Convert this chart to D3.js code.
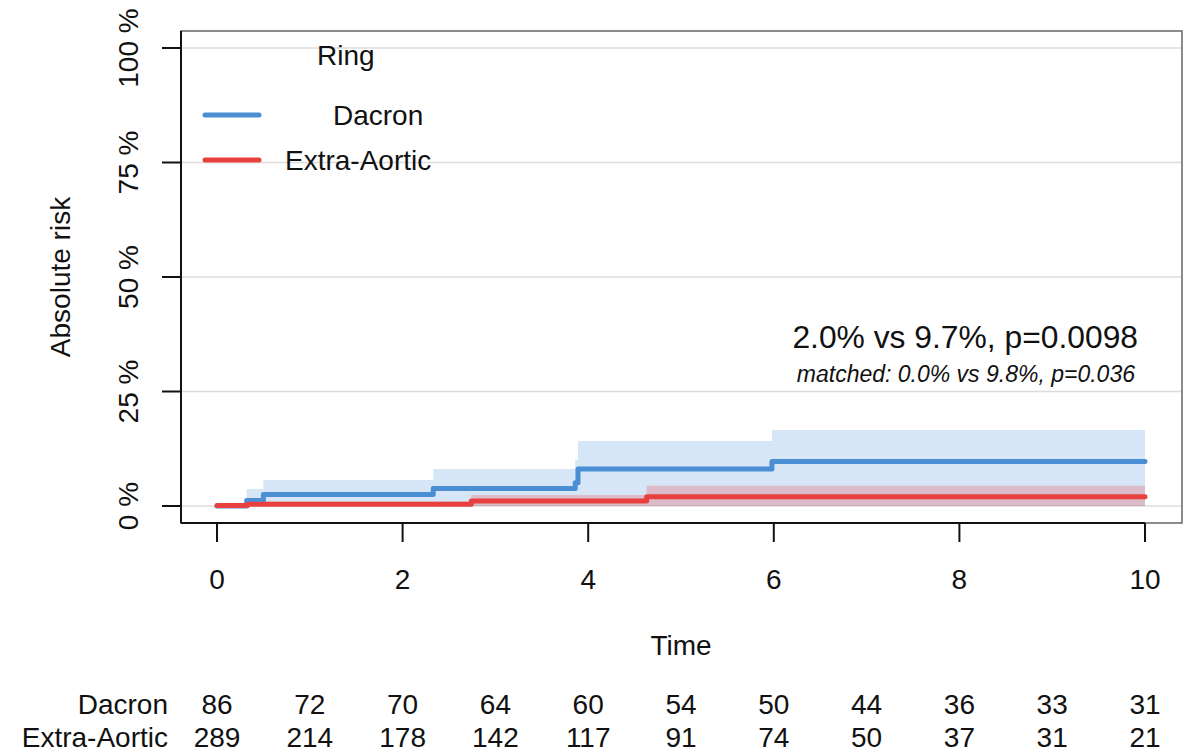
<!DOCTYPE html>
<html>
<head>
<meta charset="utf-8">
<script src="https://cdn.jsdelivr.net/npm/d3@7"></script>
<style>
  body { margin: 0; background: #fff; }
  svg text { font-family: "Liberation Sans", Arial, Helvetica, sans-serif; fill: #111; }
</style>
</head>
<body>
<div id="chart"></div>
<script>
// cumulative incidence curves (time in years, risk in %)
const dacronTime  = [0, 0.32, 0.5, 2.33, 3.86, 3.89, 5.98, 10];
const dacronRisk  = [0, 1.2, 2.5, 3.8, 5.1, 8.1, 9.7, 9.7];
const dacronUpper = [0, 3.7, 5.7, 8.1, 10.0, 14.2, 16.6, 16.6];
const dacronLower = [0, 0, 0, 0, 0, 0, 0, 0];

const extraTime  = [0, 0.33, 2.74, 4.63, 10];
const extraRisk  = [0.1, 0.4, 1.1, 2.0, 2.0];
const extraUpper = [0.6, 1.0, 2.4, 4.4, 4.4];
const extraLower = [0, 0, 0, 0, 0];

// numbers at risk
const riskTimes    = [0, 1, 2, 3, 4, 5, 6, 7, 8, 9, 10];
const atRiskDacron = [86, 72, 70, 64, 60, 54, 50, 44, 36, 33, 31];
const atRiskExtra  = [289, 214, 178, 142, 117, 91, 74, 50, 37, 31, 21];

const xTicks = [0, 2, 4, 6, 8, 10];
const yTicks = [0, 25, 50, 75, 100];

const groups = [
  { name: "Dacron",       color: "#4a8fd4", time: dacronTime, risk: dacronRisk, lo: dacronLower, hi: dacronUpper, atRisk: atRiskDacron },
  { name: "Extra-Aortic", color: "#e8403f", time: extraTime,  risk: extraRisk,  lo: extraLower,  hi: extraUpper,  atRisk: atRiskExtra }
];

const W = 1196, H = 756;
const box = { left: 181, top: 31, right: 1182, bottom: 523 };

const x = d3.scaleLinear().domain([0, 10]).range([217, 1145]);
const y = d3.scaleLinear().domain([0, 100]).range([506, 48]);

const svg = d3.select("#chart").append("svg")
  .attr("width", W).attr("height", H);

// grid
svg.append("g").selectAll("line")
  .data(yTicks)
  .join("line")
    .attr("x1", box.left).attr("x2", box.right)
    .attr("y1", d => y(d)).attr("y2", d => y(d))
    .attr("stroke", "#dcdcdc").attr("stroke-width", 1.5);

// confidence bands
const area = d3.area()
  .curve(d3.curveStepAfter)
  .x(d => x(d.t)).y0(d => y(d.lo)).y1(d => y(d.hi));

const line = d3.line()
  .curve(d3.curveStepAfter)
  .x(d => x(d.t)).y(d => y(d.r));

const pts = g => g.time.map((t, i) => ({ t, r: g.risk[i], lo: g.lo[i], hi: g.hi[i] }));

svg.append("g").selectAll("path")
  .data(groups)
  .join("path")
    .attr("d", d => area(pts(d)))
    .attr("fill", d => d.color)
    .attr("fill-opacity", (d, i) => i === 0 ? 0.22 : 0.25);

svg.append("g").selectAll("path")
  .data(groups)
  .join("path")
    .attr("d", d => line(pts(d)))
    .attr("fill", "none")
    .attr("stroke", d => d.color)
    .attr("stroke-width", 5)
    .attr("stroke-linecap", "round")
    .attr("stroke-linejoin", "round");

// box + axes
svg.append("rect")
  .attr("x", box.left).attr("y", box.top)
  .attr("width", box.right - box.left).attr("height", box.bottom - box.top)
  .attr("fill", "none").attr("stroke", "#666").attr("stroke-width", 1.5);

svg.append("line")
  .attr("x1", box.left).attr("x2", box.left)
  .attr("y1", box.top).attr("y2", box.bottom)
  .attr("stroke", "#111").attr("stroke-width", 2);
svg.append("line")
  .attr("x1", box.left).attr("x2", x(10))
  .attr("y1", box.bottom).attr("y2", box.bottom)
  .attr("stroke", "#111").attr("stroke-width", 2);

const xAxis = svg.append("g");
xAxis.selectAll("line")
  .data(xTicks)
  .join("line")
    .attr("x1", d => x(d)).attr("x2", d => x(d))
    .attr("y1", box.bottom).attr("y2", box.bottom + 19)
    .attr("stroke", "#111").attr("stroke-width", 2);
xAxis.selectAll("text")
  .data(xTicks)
  .join("text")
    .attr("x", d => x(d)).attr("y", 589)
    .attr("text-anchor", "middle")
    .style("font-size", "28px")
    .text(d => d);

const yAxis = svg.append("g");
yAxis.selectAll("line")
  .data(yTicks)
  .join("line")
    .attr("x1", box.left - 19).attr("x2", box.left)
    .attr("y1", d => y(d)).attr("y2", d => y(d))
    .attr("stroke", "#111").attr("stroke-width", 2);
yAxis.selectAll("text")
  .data(yTicks)
  .join("text")
    .attr("transform", d => `translate(138,${y(d)}) rotate(-90)`)
    .attr("text-anchor", "middle")
    .style("font-size", "28px")
    .text(d => `${d} %`);

// axis titles
svg.append("text")
  .attr("transform", `translate(70,${y(50)}) rotate(-90)`)
  .attr("text-anchor", "middle")
  .style("font-size", "28px")
  .text("Absolute risk");

svg.append("text")
  .attr("x", x(5)).attr("y", 655)
  .attr("text-anchor", "middle")
  .style("font-size", "28px")
  .text("Time");

// legend
const legend = svg.append("g");
legend.append("text")
  .attr("x", 317).attr("y", 65)
  .style("font-size", "28px")
  .text("Ring");
const legendRows = [
  { g: groups[0], ly: 115, tx: 333, ty: 125 },
  { g: groups[1], ly: 160, tx: 285, ty: 170 }
];
legend.selectAll("line")
  .data(legendRows)
  .join("line")
    .attr("x1", 205).attr("x2", 259)
    .attr("y1", d => d.ly).attr("y2", d => d.ly)
    .attr("stroke", d => d.g.color)
    .attr("stroke-width", 5)
    .attr("stroke-linecap", "round");
legend.selectAll("text.item")
  .data(legendRows)
  .join("text")
    .attr("class", "item")
    .attr("x", d => d.tx).attr("y", d => d.ty)
    .style("font-size", "28px")
    .text(d => d.g.name);

// annotation
svg.append("text")
  .attr("x", 1138).attr("y", 348)
  .attr("text-anchor", "end")
  .style("font-size", "31.8px")
  .text("2.0% vs 9.7%, p=0.0098");
svg.append("text")
  .attr("x", 1135).attr("y", 382)
  .attr("text-anchor", "end")
  .style("font-size", "23px")
  .style("font-style", "italic")
  .text("matched: 0.0% vs 9.8%, p=0.036");

// numbers at risk table
const table = svg.append("g");
const rowY = [714, 747];
groups.forEach((g, gi) => {
  table.append("text")
    .attr("x", 168).attr("y", rowY[gi])
    .attr("text-anchor", "end")
    .style("font-size", "28px")
    .text(g.name);
  table.selectAll(`text.n${gi}`)
    .data(g.atRisk)
    .join("text")
      .attr("class", `n${gi}`)
      .attr("x", (d, i) => x(riskTimes[i])).attr("y", rowY[gi])
      .attr("text-anchor", "middle")
      .style("font-size", "28px")
      .text(d => d);
});
</script>
</body>
</html>
